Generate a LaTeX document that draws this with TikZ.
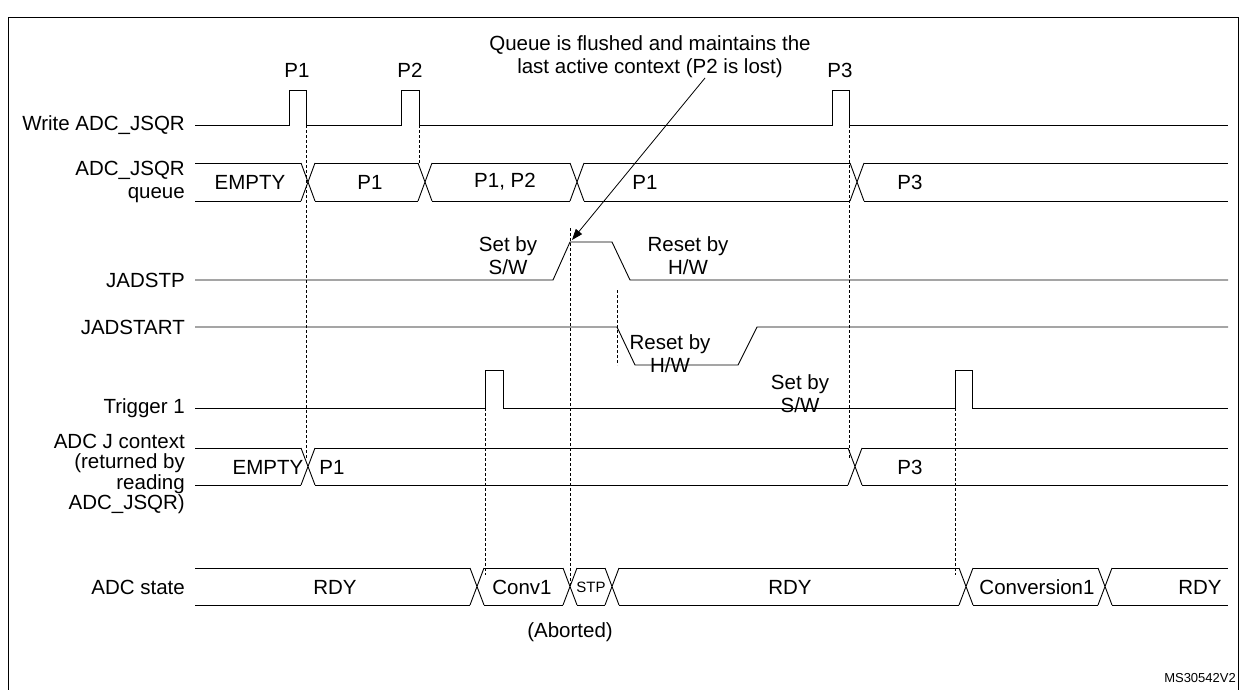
\documentclass[tikz,border=0pt]{standalone}
\usepackage{fontspec}
\setmainfont{Liberation Sans}
\usetikzlibrary{arrows.meta}
\begin{document}
\begin{tikzpicture}[x=1pt,y=-1pt,
  sig/.style={line width=0.9pt},
  dsh/.style={line width=0.8pt,dash pattern=on 3pt off 2pt},
  lbl/.style={font=\fontsize{20.5}{23}\selectfont,inner sep=0pt},
  rl/.style={lbl,anchor=east,align=right}]
\useasboundingbox (0,0) rectangle (1241,690);
\draw[line width=1pt] (8,690) -- (8,18) -- (1238,18) -- (1238,690);
\newcommand{\busseg}[4]{\draw[sig] (#1,#3) -- (#2,#3) (#1,#4) -- (#2,#4);}
\newcommand{\xcross}[3]{\draw[sig] (#1-7,#2) -- (#1+7,#3) (#1-7,#3) -- (#1+7,#2);}
% Write ADC_JSQR
\node[rl] (l1) at (185,125) {Write ADC\_JSQR};
\draw[sig] (195,125) -- (289,125) -- (289,90) -- (306,90) -- (306,125) -- (401,125) -- (401,90) -- (419,90) -- (419,125) -- (832,125) -- (832,90) -- (849,90) -- (849,125) -- (1228,125);
\node[lbl] (p1) at (297,70) {P1};
\node[lbl] (p2) at (410,70) {P2};
\node[lbl] (p3) at (840,70) {P3};
\node[lbl,align=center] (note) at (650,57) {Queue is flushed and maintains the\\last active context (P2 is lost)};
% queue
\node[rl] (l2) at (185,182) {ADC\_JSQR\\queue};
\busseg{195}{301}{163}{201}
\xcross{308}{163}{201}
\busseg{315}{418}{163}{201}
\xcross{425}{163}{201}
\busseg{432}{570}{163}{201}
\xcross{577}{163}{201}
\busseg{584}{850}{163}{201}
\xcross{857}{163}{201}
\busseg{864}{1228}{163}{201}
\node[lbl] (q0) at (250,182) {EMPTY};
\node[lbl] (q1) at (370,182) {P1};
\node[lbl] (q2) at (505,182) {P1, P2};
\node[lbl] (q3) at (645,182) {P1};
\node[lbl] (q4) at (910,182) {P3};
% JADSTP
\node[rl] (l3) at (185,280) {JADSTP};
\draw[sig] (195,280) -- (553,280) -- (570,242) -- (612,242) -- (630,280) -- (1228,280);
\node[lbl,align=center] (t1) at (508,256) {Set by\\S/W};
\node[lbl,align=center] (t2) at (688,256) {Reset by\\H/W};
% JADSTART
\node[rl] (l4) at (185,327) {JADSTART};
\draw[sig] (195,327) -- (617,327) -- (635,365) -- (738,365) -- (757,327) -- (1228,327);
\node[lbl,align=center] (t3) at (670,354) {Reset by\\H/W};
\node[lbl,align=center] (t4) at (800,394) {Set by\\S/W};
% Trigger 1
\node[rl] (l5) at (185,408) {Trigger 1};
\draw[sig] (195,408) -- (485,408) -- (485,370) -- (503,370) -- (503,408) -- (955,408) -- (955,370) -- (972,370) -- (972,408) -- (1228,408);
% ADC J context
\node[rl,align=right,font=\fontsize{20.5}{20.3}\selectfont] (l6) at (185,474) {ADC J context\\(returned by\\reading\\ADC\_JSQR)};
\busseg{195}{301}{448}{485}
\xcross{308}{448}{485}
\busseg{315}{848}{448}{485}
\xcross{855}{448}{485}
\busseg{862}{1228}{448}{485}
\node[lbl] (c0) at (268,467) {EMPTY};
\node[lbl] (c1) at (332,467) {P1};
\node[lbl] (c2) at (910,467) {P3};
% ADC state
\node[rl] (l7) at (185,587) {ADC state};
\busseg{195}{470}{568}{605}
\xcross{477}{568}{605}
\busseg{484}{563}{568}{605}
\xcross{570}{568}{605}
\busseg{577}{605}{568}{605}
\xcross{612}{568}{605}
\busseg{619}{959}{568}{605}
\xcross{966}{568}{605}
\busseg{973}{1098}{568}{605}
\xcross{1105}{568}{605}
\busseg{1112}{1228}{568}{605}
\node[lbl] (s0) at (335,587) {RDY};
\node[lbl] (s1) at (522,587) {Conv1};
\node[lbl,font=\fontsize{15}{17}\selectfont] (s2) at (591,587) {STP};
\node[lbl] (s3) at (790,587) {RDY};
\node[lbl] (s4) at (1037,587) {Conversion1};
\node[lbl] (s5) at (1200,587) {RDY};
\node[lbl] (ab) at (570,632) {(Aborted)};
\node[lbl,font=\fontsize{13}{15}\selectfont,anchor=east] (ms) at (1236,678) {MS30542V2};
% dashed
\draw[dsh] (306,125) -- (306,458);
\draw[dsh] (419,125) -- (419,163);
\draw[dsh] (570,228) -- (570,585);
\draw[dsh] (617,290) -- (617,365);
\draw[dsh] (849,125) -- (849,458);
\draw[dsh] (485,408) -- (485,575);
\draw[dsh] (955,408) -- (955,575);
% arrow
\coordinate (ae) at (572,240);
\draw[line width=0.8pt,-{Triangle[length=11pt,width=8pt]}] (705,78) -- (ae);
\end{tikzpicture}
\end{document}
